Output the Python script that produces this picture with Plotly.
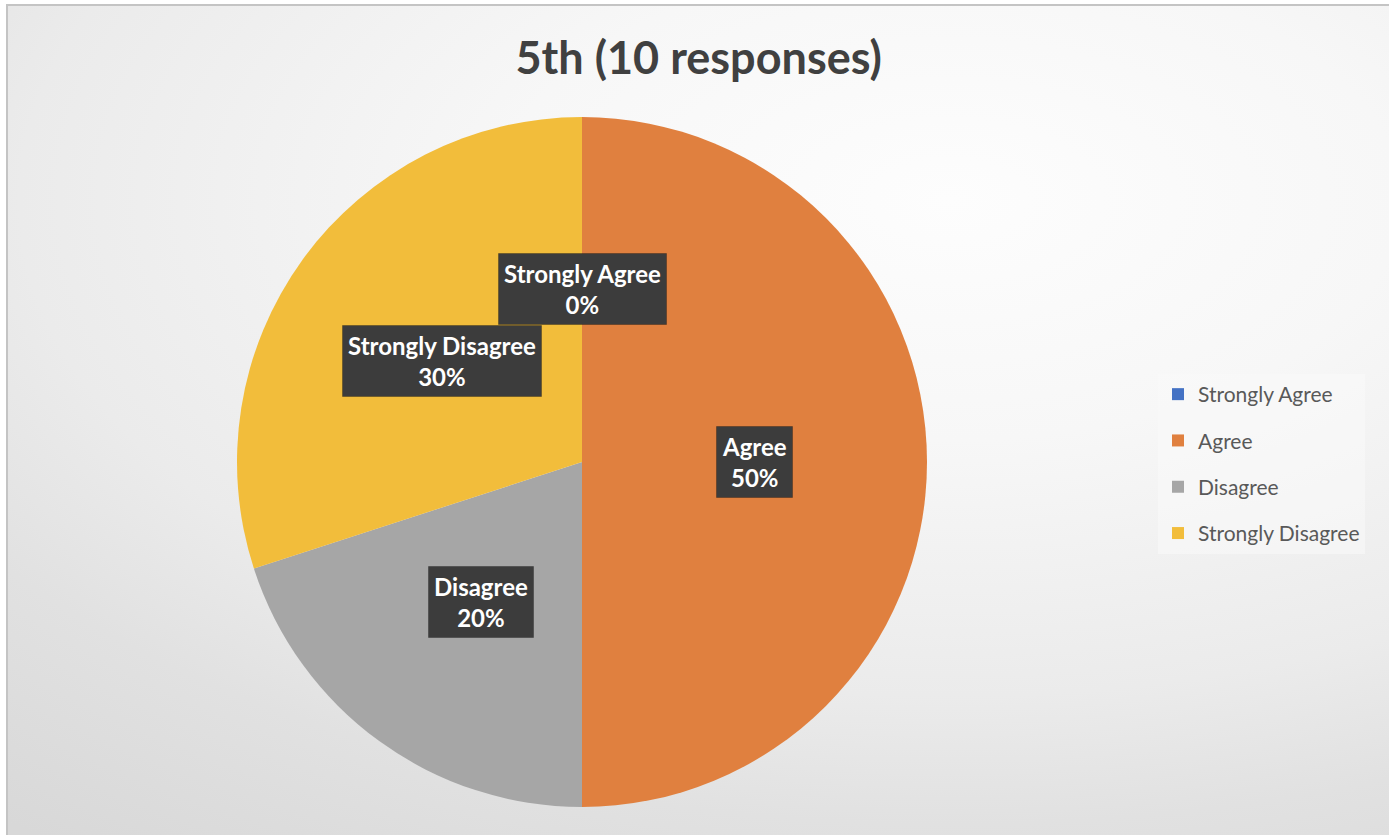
import math
import plotly.graph_objects as go

categories = ["Strongly Agree", "Agree", "Disagree", "Strongly Disagree"]
responses = [0, 5, 2, 3]
colors = ["#4472C4", "#E0803F", "#A6A6A6", "#F2BD3B"]
title_text = "5th (10 responses)"

W, H = 1389, 835
CX, CY, R = 582, 462, 345  # pie centre / radius in pixels

fig = go.Figure()

# background panel with soft radial gradient (light spot up-right of middle)
GX, GY, GRX, GRY = 950, 200, 1500, 800
fig.add_trace(go.Scatter(
    x=[(GX - GRX) / W, (GX + GRX) / W, (GX + GRX) / W, (GX - GRX) / W, (GX - GRX) / W],
    y=[1 - (GY + GRY) / H, 1 - (GY + GRY) / H, 1 - (GY - GRY) / H, 1 - (GY - GRY) / H, 1 - (GY + GRY) / H],
    mode="lines", fill="toself", line=dict(width=0),
    fillgradient=dict(type="radial", colorscale=[[0, "#fdfdfd"], [0.3, "#f7f7f7"], [0.62, "#ebebeb"],
                                                 [0.78, "#e1e1e1"], [1, "#d8d8d8"]]),
    hoverinfo="skip", showlegend=False,
))

fig.add_trace(go.Pie(
    labels=categories, values=responses, sort=False, direction="clockwise",
    rotation=0, marker=dict(colors=colors, line=dict(width=0)),
    textinfo="none", showlegend=False, hoverinfo="label+percent",
    domain=dict(x=[(CX - R) / W, (CX + R) / W], y=[1 - (CY + R) / H, 1 - (CY - R) / H]),
))

# legend entries
for cat, col in zip(categories, colors):
    fig.add_trace(go.Scatter(
        x=[None], y=[None], mode="markers", name=cat, legendgroup=cat,
        marker=dict(symbol="square", size=12, color=col),
    ))

# data labels (dark boxes) placed at mid-angle of each slice
total = sum(responses)
cum = 0
annotations = []
LBL_FONT = dict(family="Lato", size=24, weight="bold", color="#ffffff")
for cat, v in zip(categories, responses):
    theta = 2 * math.pi * (cum + v / 2) / total
    cum += v
    px = CX + 0.5 * R * math.sin(theta)
    py = CY - 0.5 * R * math.cos(theta)
    pct = round(100 * v / total)
    annotations.append(dict(
        x=px / W, y=1 - py / H, xref="paper", yref="paper", showarrow=False,
        xanchor="center", yanchor="middle", text=f"{cat}<br>{pct}%", align="center",
        borderpad=5, bgcolor="#3c3c3c", bordercolor="rgba(0,0,0,0.25)", borderwidth=1,
        font=LBL_FONT,
    ))

bx0, by1 = 7 / W, 1 - 5 / H
fig.update_layout(
    width=W, height=H,
    margin=dict(l=0, r=0, t=0, b=0),
    paper_bgcolor="#ffffff", plot_bgcolor="rgba(0,0,0,0)",
    xaxis=dict(range=[bx0, 1], visible=False, domain=[bx0, 1], fixedrange=True),
    yaxis=dict(range=[0, by1], visible=False, domain=[0, by1], fixedrange=True),
    title=dict(text=title_text, x=0.503, xanchor="center", y=1 - 58 / H, yanchor="middle",
               font=dict(family="Lato", size=45, weight="bold", color="#404040")),
    legend=dict(x=1158 / W, xanchor="left", y=1 - 464 / H, yanchor="middle",
                traceorder="grouped", tracegroupgap=16,
                font=dict(family="Lato", size=21, color="#595959"),
                bgcolor="rgba(250,250,250,0.55)", itemwidth=30),
    annotations=annotations,
    shapes=[dict(type="rect", xref="paper", yref="paper", x0=bx0, x1=1.02, y0=-0.02, y1=by1,
                 line=dict(color="#c4c4c4", width=2), fillcolor="rgba(0,0,0,0)")],
)

fig.write_html("out.html", config={"displayModeBar": False},
               post_script="document.body.style.margin='0';")
